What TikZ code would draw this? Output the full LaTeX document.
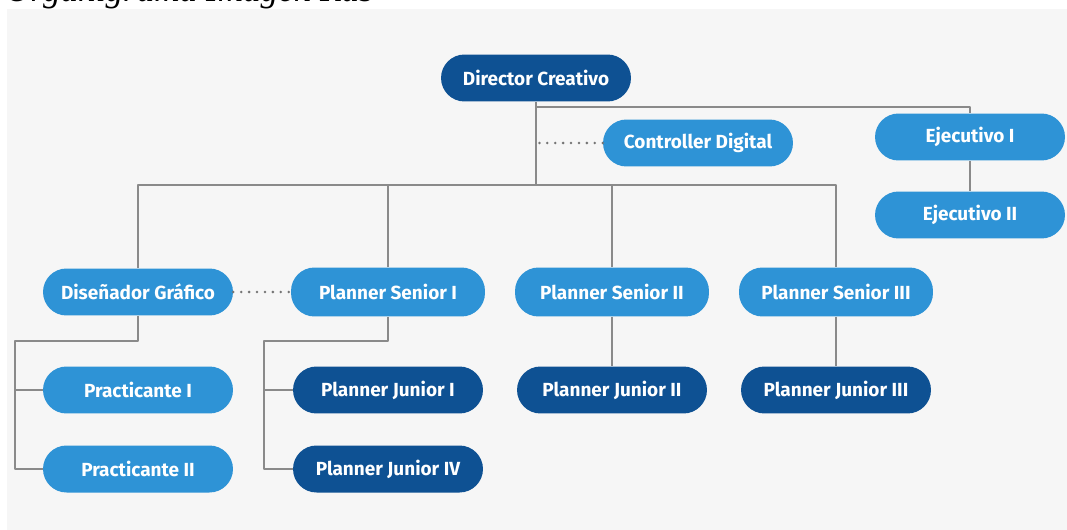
\documentclass[tikz,border=0pt]{standalone}
\usepackage{fontspec}
\setmainfont{Fira Sans}
\newfontfamily\titlefont{Liberation Serif}
\definecolor{azul}{HTML}{0E5193}
\definecolor{celeste}{HTML}{2E93D6}
\definecolor{linea}{HTML}{8A8A8A}
\definecolor{fondo}{HTML}{F6F6F6}

\begin{document}
\begin{tikzpicture}[x = 0.02cm, y = -0.02cm, line cap = round, line join = round,
  cargo/.style = {fill = celeste, text = white, rounded corners = 0.47cm,
    minimum width = 3.8cm, minimum height = 0.94cm, inner sep = 0pt,
    font = \bfseries\fontsize{10.8}{12}\selectfont},
  jefe/.style = {cargo, fill = azul},
  senior/.style = {cargo, minimum width = 3.88cm, minimum height = 0.98cm},
  junior/.style = {cargo, fill = azul},
  rama/.style = {draw = linea, line width = 0.8pt, line cap = butt},
  punteado/.style = {draw = linea!85!black, line width = 1.6pt,
    dash pattern = on 0pt off 4.5pt}]
  \useasboundingbox (0, 0) rectangle (1067, 530);
  \node[font = \titlefont\itshape\fontsize{20}{24}\selectfont, anchor = base west,
    inner sep = 0pt] (titulo) at (5, 2) {Organigrama Imagen Ras};
  \fill[fondo] (7, 9) rectangle (1067, 530);

  % nivel 1
  \node[jefe] (dir) at (536, 78) {Director Creativo};
  \node[cargo] (cd) at (698, 143) {Controller Digital};
  \node[cargo] (ej1) at (970, 137) {Ejecutivo I};
  \node[cargo] (ej2) at (970, 215) {Ejecutivo II};

  % nivel 2
  \node[cargo] (dg) at (138, 292) {Diseñador Gráfico};
  \node[senior] (ps1) at (388, 292) {Planner Senior I};
  \node[senior] (ps2) at (612, 292) {Planner Senior II};
  \node[senior] (ps3) at (836, 292) {Planner Senior III};

  % nivel 3
  \node[cargo] (pr1) at (138, 390) {Practicante I};
  \node[cargo] (pr2) at (138, 469) {Practicante II};
  \node[junior] (pj1) at (388, 390) {Planner Junior I};
  \node[junior] (pj4) at (388, 469) {Planner Junior IV};
  \node[junior] (pj2) at (612, 390) {Planner Junior II};
  \node[junior] (pj3) at (836, 390) {Planner Junior III};

  \coordinate (bus) at (536, 185);
  \coordinate (ej) at (536, 107);
  \coordinate (dgk) at (15, 341);
  \coordinate (psk) at (264, 341);

  \draw[rama] (dir.south) -- (bus);
  \draw[rama] (ej) -| (ej1.north);
  \draw[rama] (ej1.south) -- (ej2.north);
  \draw[rama] (dg.north) -- (dg.north |- bus) -- (ps3.north |- bus) -- (ps3.north);
  \draw[rama] (ps1.north) -- (ps1.north |- bus);
  \draw[rama] (ps2.north) -- (ps2.north |- bus);

  \draw[rama] (dg.south) |- (dgk) |- (pr2.west);
  \draw[rama] (pr1.west) -- (pr1.west -| dgk);
  \draw[rama] (ps1.south) |- (psk) |- (pj4.west);
  \draw[rama] (pj1.west) -- (pj1.west -| psk);
  \draw[rama] (ps2.south) -- (pj2.north);
  \draw[rama] (ps3.south) -- (pj3.north);

  \draw[punteado] (cd.west) -- (cd.west -| dir.south);
  \draw[punteado] (dg.east) -- (ps1.west);
\end{tikzpicture}
\end{document}
